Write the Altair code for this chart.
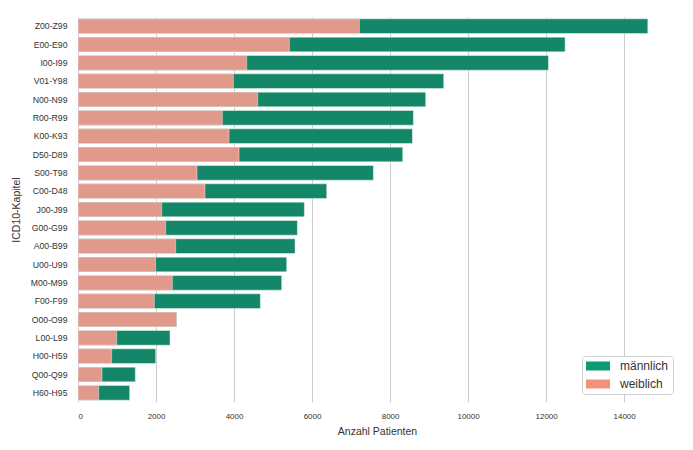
import altair as alt
import pandas as pd

kapitel = ["Z00-Z99", "E00-E90", "I00-I99", "V01-Y98", "N00-N99", "R00-R99", "K00-K93",
           "D50-D89", "S00-T98", "C00-D48", "J00-J99", "G00-G99", "A00-B99", "U00-U99",
           "M00-M99", "F00-F99", "O00-O99", "L00-L99", "H00-H59", "Q00-Q99", "H60-H95"]
gesamt = [14607, 12487, 12060, 9376, 8914, 8598, 8573, 8325, 7573, 6376, 5803, 5624,
          5564, 5350, 5222, 4675, 2530, 2359, 1991, 1470, 1325]
weiblich = [7213, 5419, 4325, 3983, 4607, 3701, 3872, 4128, 3051, 3256, 2145, 2248,
            2504, 1991, 2419, 1957, 2530, 991, 863, 615, 530]
x_ticks = [0, 2000, 4000, 6000, 8000, 10000, 12000, 14000]
geschlechter = ["männlich", "weiblich"]

df_m = pd.DataFrame({"Kapitel": kapitel, "Wert": gesamt})
df_w = pd.DataFrame({"Kapitel": kapitel, "Wert": weiblich})
df_leg = pd.DataFrame({"Kapitel": [kapitel[0]] * 2, "Wert": [0, 0], "Geschlecht": geschlechter})

x = alt.X("Wert:Q", title="Anzahl Patienten",
          scale=alt.Scale(domain=[0, 15330], nice=False),
          axis=alt.Axis(values=x_ticks, format="d", grid=True, gridColor="#cccccc",
                        domain=False, ticks=False, labelFontSize=8, labelPadding=10,
                        titleFontSize=10.5, titlePadding=6, labelColor="#333333",
                        titleColor="#333333", titleFontWeight="normal"))
y = alt.Y("Kapitel:N", sort=kapitel, title="ICD10-Kapitel",
          scale=alt.Scale(paddingInner=0.2, paddingOuter=0.1),
          axis=alt.Axis(grid=False, domain=False, ticks=False, labelFontSize=8.7,
                        labelPadding=11, titleFontSize=10.5, titlePadding=9,
                        labelColor="#333333", titleColor="#333333",
                        titleFontWeight="normal"))

bar_style = dict(stroke="white", strokeWidth=0.6, strokeOpacity=0.7)
bars_m = alt.Chart(df_m).mark_bar(**bar_style).encode(x=x, y=y, color=alt.value("#148768"))
bars_w = alt.Chart(df_w).mark_bar(**bar_style).encode(x=x, y=y, color=alt.value("#e0998a"))

legend_layer = alt.Chart(df_leg).mark_bar(strokeWidth=0).encode(
    x=x, y=y,
    color=alt.Color(
        "Geschlecht:N",
        scale=alt.Scale(domain=geschlechter, range=["#0f9b72", "#ef917b"]),
        legend=alt.Legend(
            title=None, orient="none", legendX=504, legendY=339,
            symbolType="M-1,-0.75h4v1.5h-4z", symbolSize=144, symbolStrokeWidth=0,
            labelFontSize=12, labelColor="#333333", labelFont="Liberation Sans",
            fillColor="white", strokeColor="#d0d0d0", cornerRadius=3, padding=4,
            rowPadding=6, labelOffset=22,
        ),
    ),
)

chart = alt.layer(bars_m, bars_w, legend_layer).properties(
    width=598, height=385,
    autosize=alt.AutoSizeParams(type="none"),
    padding={"left": 70, "top": 9, "right": 5, "bottom": 40},
).configure(font="Liberation Sans").configure_view(stroke=None)

chart.save("out.html", embed_options={"renderer": "svg", "actions": False})
